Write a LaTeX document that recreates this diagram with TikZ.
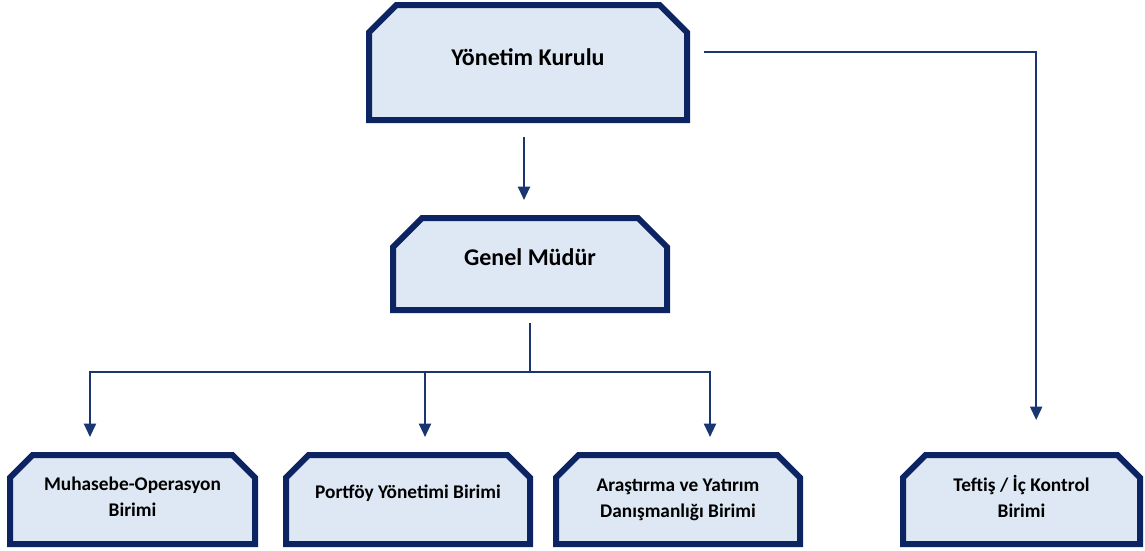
\documentclass[tikz,border=0pt]{standalone}
\usepackage{fontspec}
\setmainfont{Carlito}
\usetikzlibrary{shapes.misc,arrows.meta,positioning}
\definecolor{boxline}{HTML}{0C2461}
\definecolor{boxfill}{HTML}{DEE8F4}
\definecolor{connline}{HTML}{1A3670}

\begin{document}
\begin{tikzpicture}[
            x=0.75pt, y=-0.75pt,
            chambox/.style={chamfered rectangle, chamfered rectangle corners={north west,north east}, draw=boxline, fill=boxfill, line width=4.5pt, align=center, inner sep=0pt},
            headbox/.style={chambox, chamfered rectangle xsep=11pt, chamfered rectangle ysep=11pt, font=\fontsize{18}{21}\selectfont\bfseries, text height=12pt},
            unitbox/.style={chambox, chamfered rectangle xsep=8.5pt, chamfered rectangle ysep=8.5pt, minimum height=66.75pt, font=\fontsize{14.5}{19.5}\selectfont\bfseries},
            conn/.style={line width=1.5pt, draw=connline},
            arrow/.style={conn, -{Triangle[width=9pt,length=10pt]}}
        ]
        \useasboundingbox (0,0) rectangle (1145,550);

        \node[headbox, minimum width=238.5pt, minimum height=86.25pt, text depth=7pt] (board) at (528,62.5) {Yönetim Kurulu};
        \node[headbox, minimum width=205.5pt, minimum height=69pt, text depth=9.5pt, below=69pt of board, xshift=1.5pt] (gm) {Genel Müdür};

        \node[unitbox, minimum width=183pt, text height=10pt, text depth=12pt, below=104.25pt of gm, xshift=-91.5pt] (portfolio) {Portföy Yönetimi Birimi};
        \node[unitbox, minimum width=183.75pt, text depth=4pt, left=18.75pt of portfolio] (accounting) {Muhasebe-Operasyon\\Birimi};
        \node[unitbox, minimum width=183pt, right=15pt of portfolio] (research) {Araştırma ve Yatırım\\Danışmanlığı Birimi};
        \node[unitbox, minimum width=177.75pt, text depth=5pt, right=72.75pt of research] (audit) {Teftiş / İç Kontrol\\Birimi};

        \coordinate (split) at (530,372);

        \draw[arrow, shorten <=10.5pt, shorten >=11.25pt] ([xshift=-3pt]board.south) -- ([xshift=-3pt]board.south |- gm.north);
        \draw[conn, shorten <=7.5pt] (gm.south) -- (gm.south |- split);
        \draw[arrow, shorten >=11.25pt] (split) -| ([xshift=-31.9pt]accounting.north);
        \draw[arrow, shorten >=11.25pt] (split) -| ([xshift=12.75pt]portfolio.north);
        \draw[arrow, shorten >=11.25pt] (split) -| ([xshift=24pt]research.north);
        \draw[arrow, shorten <=10.5pt, shorten >=24pt] ([yshift=8pt]board.east) -| ([xshift=11pt]audit.north);

        \end{tikzpicture}
\end{document}
